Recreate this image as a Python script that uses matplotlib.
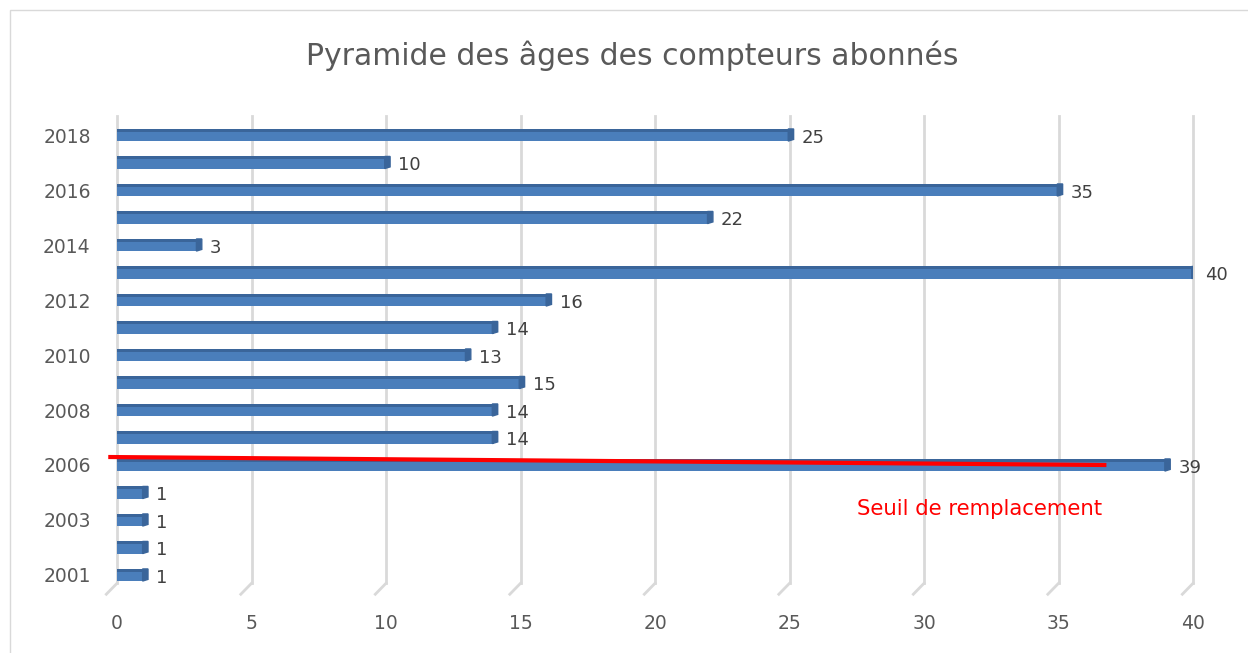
import matplotlib.pyplot as plt
from matplotlib.patches import Rectangle, Polygon

years = ['2001', '2002', '2003', '2005', '2006', '2007', '2008', '2009', '2010',
         '2011', '2012', '2013', '2014', '2015', '2016', '2017', '2018']
counts = [1, 1, 1, 1, 39, 14, 14, 15, 13, 14, 16, 40, 3, 22, 35, 10, 25]
shown_labels = ['2001', '2003', '2006', '2008', '2010', '2012', '2014', '2016', '2018']
xticks = [0, 5, 10, 15, 20, 25, 30, 35, 40]

# seuil line (hand drawn in the original, slightly slanted)
seuil_x = [-0.25, 36.7]
seuil_y = [4.29, 4.0]

fig = plt.figure(figsize=(12.48, 6.53), dpi=100)
ax = fig.add_axes([0.0938, 0.0984, 0.8622, 0.7159])

bar_color = '#4a7ebb'
dark = '#3a659a'
h = 0.44
pos = list(range(len(years)))
ax.barh(pos, counts, height=h, color=bar_color, zorder=3)
# darker top face and right cap to fake the 3D look
ax.barh([p + h / 2 - 0.05 for p in pos], counts, height=0.1, color=dark, zorder=4)
for p, c in zip(pos, counts):
    ax.add_patch(Polygon([(c - 0.05, p - h / 2), (c + 0.15, p - h / 2 + 0.06),
                          (c + 0.15, p + h / 2), (c - 0.05, p + h / 2)],
                         closed=True, color=dark, zorder=4))
    ax.text(c + 0.45, p - 0.1, str(c), va='center', ha='left', fontsize=13,
            color='#404040', zorder=5)

ax.set_xlim(0, 40)
ax.set_ylim(-0.5, 16.5)
ax.set_xticks(xticks)
ax.set_xticklabels([str(t) for t in xticks])
ax.set_yticks([years.index(y) for y in shown_labels])
ax.set_yticklabels(shown_labels)
ax.tick_params(axis='x', length=0, pad=18, labelsize=13.5, labelcolor='#595959')
ax.tick_params(axis='y', length=0, pad=19, labelsize=13.5, labelcolor='#595959')
for s in ax.spines.values():
    s.set_visible(False)

for t in xticks:
    ax.plot([t, t], [-0.3, 16.7], color='#d9d9d9', lw=2, zorder=1, clip_on=False)
    ax.plot([t, t - 0.4], [-0.3, -0.7], color='#d9d9d9', lw=2, zorder=1, clip_on=False)

ax.plot(seuil_x, seuil_y, color='#ff0000', lw=3, zorder=6, clip_on=False)
ax.text(32.05, 2.4, 'Seuil de remplacement', color='#ff0000', fontsize=15.3,
        ha='center', va='center', zorder=6)

fig.text(0.507, 0.915, 'Pyramide des âges des compteurs abonnés', ha='center',
         va='center', fontsize=21.5, color='#595959')

fig.patches.append(Rectangle((10 / 1248, -0.01), 1.0, 1 - 10 / 653 + 0.01,
                             transform=fig.transFigure, fill=False,
                             edgecolor='#d9d9d9', lw=1))

fig.savefig('out.png')
